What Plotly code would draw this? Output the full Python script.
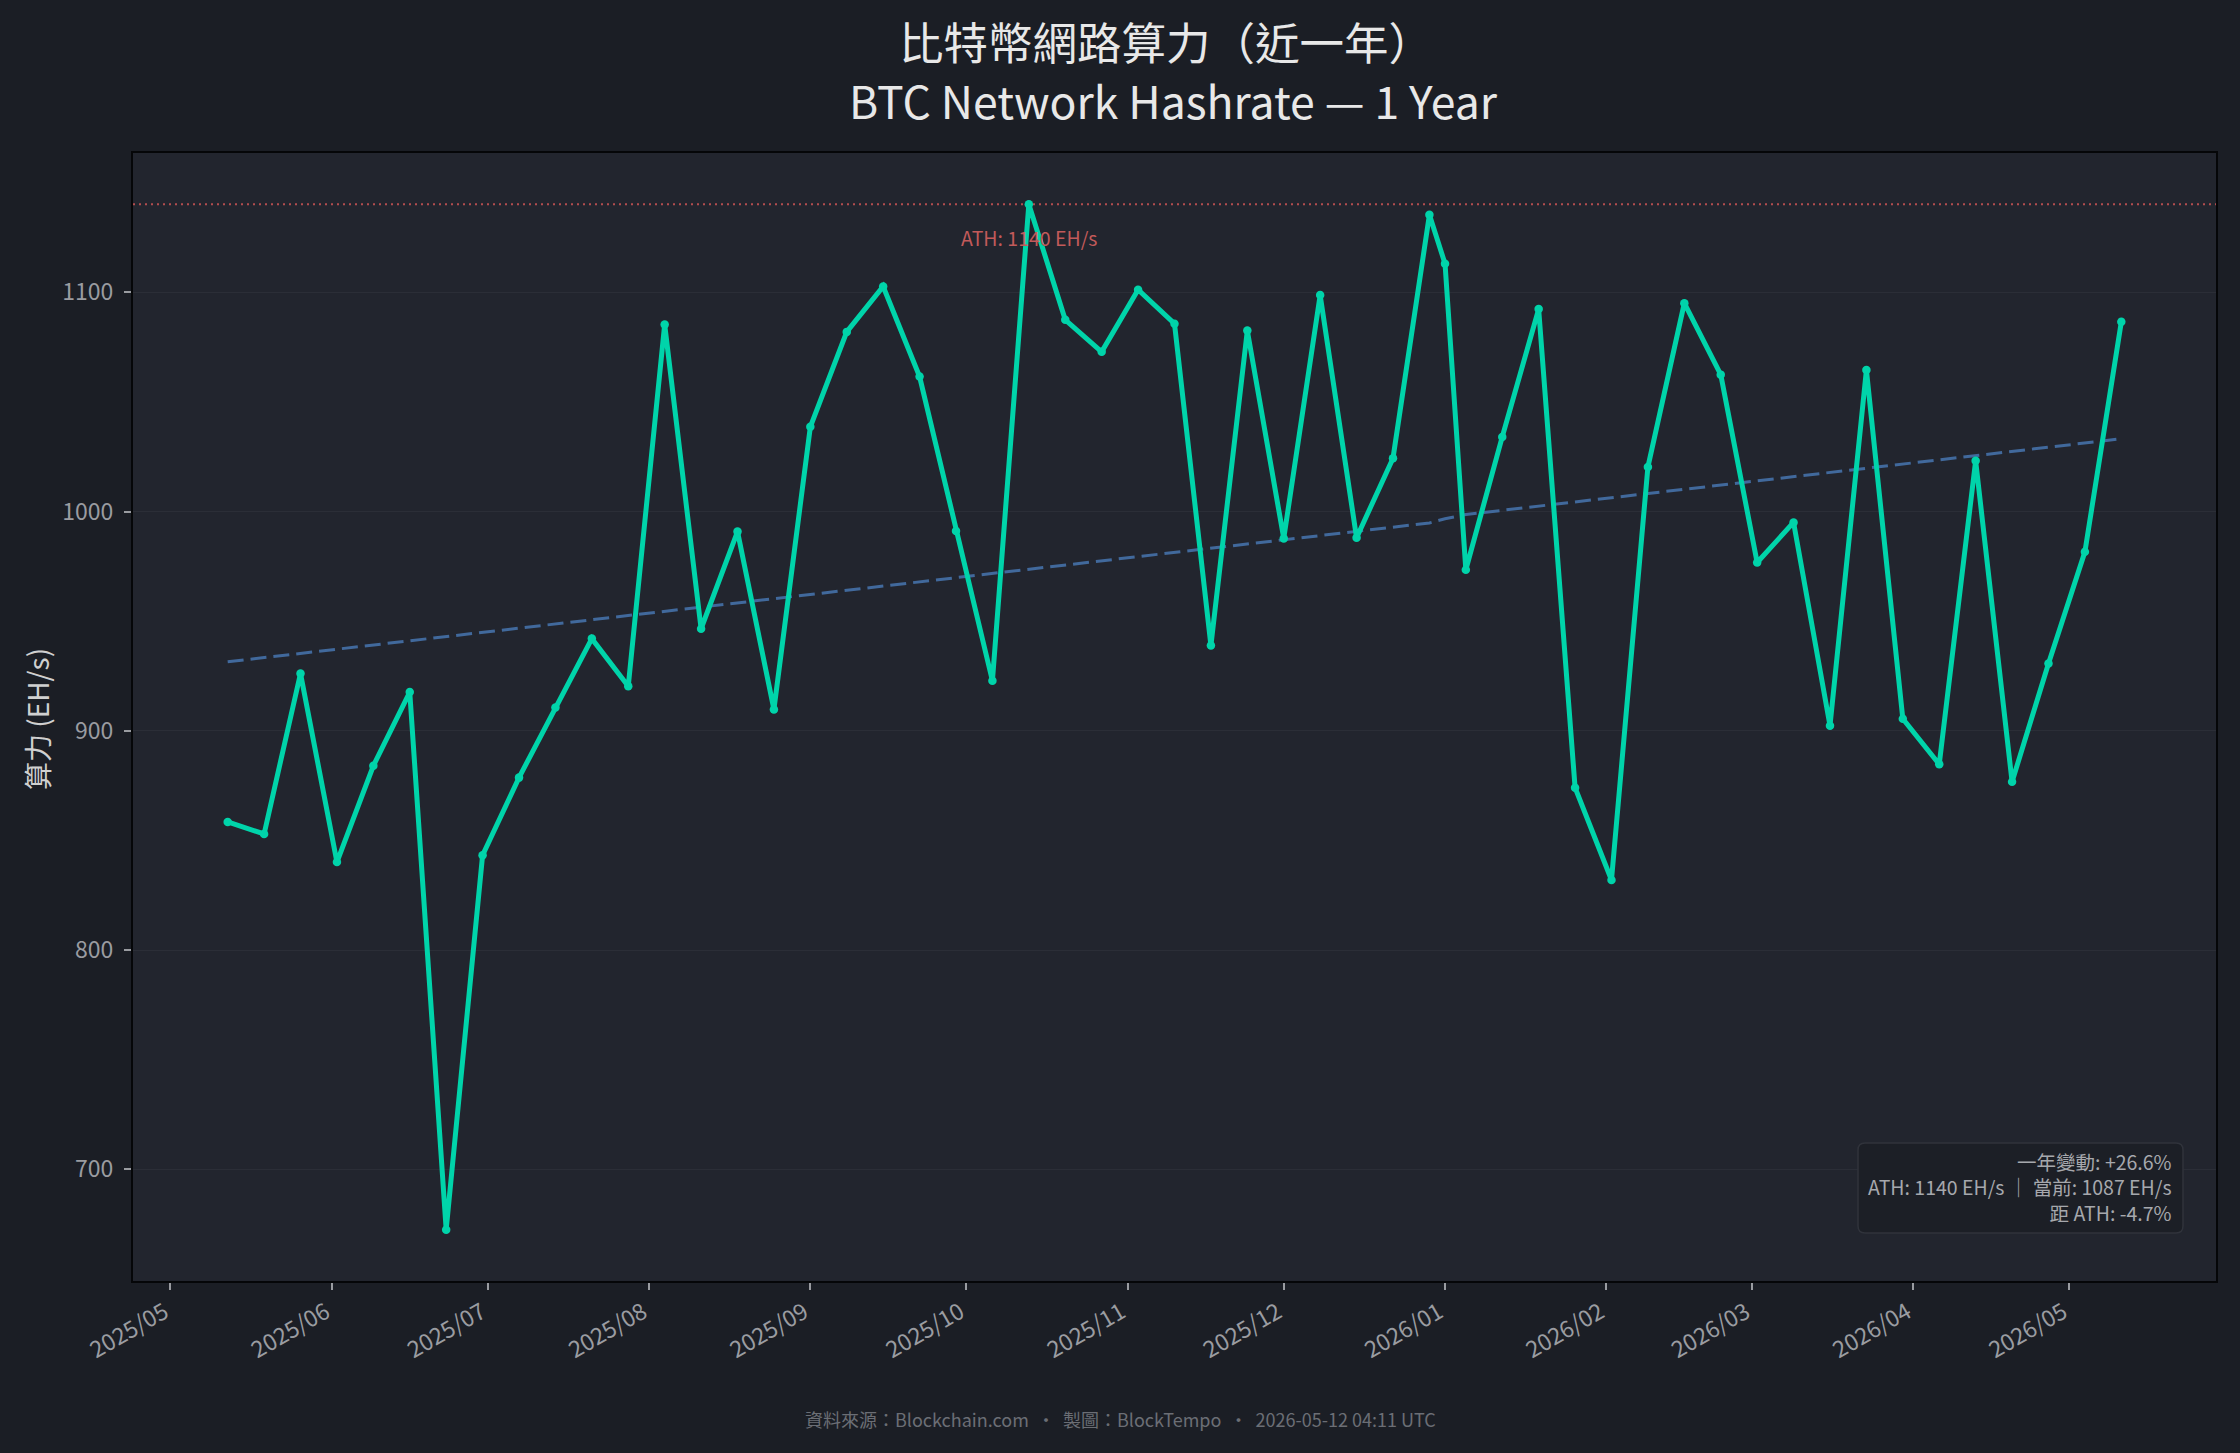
import numpy as np
import pandas as pd
import plotly.graph_objects as go

# ---------------- data ----------------
dates = [
    "2025-05-12", "2025-05-19", "2025-05-26", "2025-06-02", "2025-06-09", "2025-06-16",
    "2025-06-23", "2025-06-30", "2025-07-07", "2025-07-14", "2025-07-21", "2025-07-28",
    "2025-08-04", "2025-08-11", "2025-08-18", "2025-08-25", "2025-09-01", "2025-09-08",
    "2025-09-15", "2025-09-22", "2025-09-29", "2025-10-06", "2025-10-13", "2025-10-20",
    "2025-10-27", "2025-11-03", "2025-11-10", "2025-11-17", "2025-11-24", "2025-12-01",
    "2025-12-08", "2025-12-15", "2025-12-22", "2025-12-29", "2026-01-01", "2026-01-05",
    "2026-01-12", "2026-01-19", "2026-01-26", "2026-02-02", "2026-02-09", "2026-02-16",
    "2026-02-23", "2026-03-02", "2026-03-09", "2026-03-16", "2026-03-23", "2026-03-30",
    "2026-04-06", "2026-04-13", "2026-04-20", "2026-04-27", "2026-05-04", "2026-05-11",
]
hashrate = [
    858.5, 853.0, 926.2, 840.2, 884.1, 917.7,
    672.5, 843.3, 878.7, 910.7, 942.1, 920.4,
    1085.4, 946.6, 990.9, 909.8, 1038.7, 1082.0,
    1102.7, 1061.6, 991.2, 922.9, 1140.2, 1087.5,
    1072.9, 1101.2, 1085.7, 939.0, 1082.6, 987.8,
    1098.8, 988.1, 1024.4, 1135.4, 1113.1, 973.5,
    1034.1, 1092.4, 874.1, 832.0, 1020.4, 1095.1,
    1062.5, 976.8, 995.1, 902.4, 1064.6, 905.5,
    884.8, 1023.2, 876.8, 930.8, 981.7, 1086.6,
]
tick_dates = [
    "2025-05-01", "2025-06-01", "2025-07-01", "2025-08-01", "2025-09-01", "2025-10-01",
    "2025-11-01", "2025-12-01", "2026-01-01", "2026-02-01", "2026-03-01", "2026-04-01",
    "2026-05-01",
]
tick_labels = [
    "2025/05", "2025/06", "2025/07", "2025/08", "2025/09", "2025/10",
    "2025/11", "2025/12", "2026/01", "2026/02", "2026/03", "2026/04", "2026/05",
]
y_ticks = [700, 800, 900, 1000, 1100]

title_line1 = "比特幣網路算力（近一年）"
title_line2 = "BTC Network Hashrate — 1 Year"
y_title = "算力 (EH/s)"
ath_label = "ATH: 1140 EH/s"
info_text = "一年變動: +26.6%<br>ATH: 1140 EH/s ｜ 當前: 1087 EH/s<br>距 ATH: -4.7%"
footer_text = "資料來源：Blockchain.com  ・  製圖：BlockTempo  ・  2026-05-12 04:11 UTC"

# ---------------- styling ----------------
FONT = "Noto Sans CJK TC, Noto Sans, sans-serif"
FIG_BG = "#1b1e25"
PLOT_BG = "#22252e"
LINE_C = "#00d4aa"
TREND_C = "#41699c"
ATH_C = "rgba(205,85,85,0.85)"

W, H = 2240, 1453
ML, MR, MT, MB = 133, 24, 153, 172
PW, PH = W - ML - MR, H - MT - MB

x_dt = pd.to_datetime(dates)
vals = np.array(hashrate)
idx = np.arange(len(vals))
coef = np.polyfit(idx, vals, 1)
trend = np.polyval(coef, idx)

ath_i = int(np.argmax(vals))
ath_val = vals[ath_i]
ath_date = x_dt[ath_i]

span = x_dt[-1] - x_dt[0]
x_range = [x_dt[0] - span * 0.05, x_dt[-1] + span * 0.05]
ypad = (vals.max() - vals.min()) * 0.05
y_range = [vals.min() - ypad, vals.max() + ypad]


def px(xp):
    return (xp - ML) / PW


def py(yp):
    return (H - MB - yp) / PH


fig = go.Figure()
fig.add_trace(go.Scatter(
    x=x_dt, y=trend, mode="lines",
    line=dict(color=TREND_C, width=3, dash="16px,7px"),
    hoverinfo="skip", showlegend=False,
))
fig.add_trace(go.Scatter(
    x=x_dt, y=vals, mode="lines+markers",
    line=dict(color=LINE_C, width=5),
    marker=dict(color=LINE_C, size=8.5),
    showlegend=False,
))

# ATH reference line
fig.add_shape(type="line", xref="paper", x0=0, x1=1, yref="y", y0=ath_val, y1=ath_val,
              line=dict(color=ATH_C, width=2, dash="2px,4px"), layer="below")
fig.add_annotation(x=ath_date, y=ath_val - 15, xref="x", yref="y", text=ath_label,
                   showarrow=False, font=dict(family=FONT, size=19.5, color="#c25a5a"),
                   xanchor="center", yanchor="middle")

# info box (rounded rectangle)
bx0, bx1 = 1858, 2183
by0, by1 = 1143, 1233
r = 7
rx, ry = r / PW, r / PH
X0, X1, Y0, Y1 = px(bx0), px(bx1), py(by1), py(by0)
path = (f"M {X0+rx},{Y0} L {X1-rx},{Y0} Q {X1},{Y0} {X1},{Y0+ry} "
        f"L {X1},{Y1-ry} Q {X1},{Y1} {X1-rx},{Y1} L {X0+rx},{Y1} "
        f"Q {X0},{Y1} {X0},{Y1-ry} L {X0},{Y0+ry} Q {X0},{Y0} {X0+rx},{Y0} Z")
fig.add_shape(type="path", xref="paper", yref="paper", path=path,
              fillcolor="#1c1f26", line=dict(color="#30333b", width=1.5), layer="above")
fig.add_annotation(x=px(2174), y=py(1187), xref="paper", yref="paper", text=info_text,
                   showarrow=False, align="right", xanchor="right", yanchor="middle",
                   font=dict(family=FONT, size=19.5, color="#a6a8ad"))

# title (two lines)
fig.add_annotation(x=px(1166), y=py(40), xref="paper", yref="paper", text=title_line1,
                   showarrow=False, xanchor="center", yanchor="middle", borderpad=0,
                   font=dict(family=FONT, size=44.5, color="#e8e8e8"))
fig.add_annotation(x=px(1173), y=py(99), xref="paper", yref="paper", text=title_line2,
                   showarrow=False, xanchor="center", yanchor="middle", borderpad=0,
                   font=dict(family=FONT, size=44.5, color="#e8e8e8"))

# y-axis title
fig.add_annotation(x=px(37), y=py(719), xref="paper", yref="paper", text=y_title,
                   showarrow=False, textangle=-90, xanchor="center", yanchor="middle",
                   font=dict(family=FONT, size=28, color="#d0d0d0"))

# footer
fig.add_annotation(x=px(1120), y=py(1419), xref="paper", yref="paper", text=footer_text,
                   showarrow=False, xanchor="center", yanchor="middle",
                   font=dict(family=FONT, size=18, color="#6b6e75"))

fig.update_layout(
    width=W, height=H,
    paper_bgcolor=FIG_BG, plot_bgcolor=PLOT_BG,
    margin=dict(l=ML, r=MR, t=MT, b=MB, autoexpand=False),
    font=dict(family=FONT),
    showlegend=False,
)
fig.update_xaxes(
    type="date", range=x_range, tickvals=pd.to_datetime(tick_dates), ticktext=tick_labels,
    tickangle=-30, tickfont=dict(family=FONT, size=23, color="#9a9ca1"),
    ticks="outside", ticklen=7, tickwidth=1.5, tickcolor="#9a9ca1",
    showgrid=False, zeroline=False,
    showline=True, linecolor="#050608", linewidth=2, mirror=True,
    ticklabelstandoff=0, ticklabelshift=-6,
)
fig.update_yaxes(
    range=y_range, tickvals=y_ticks,
    tickfont=dict(family=FONT, size=23, color="#9a9ca1"),
    ticks="outside", ticklen=7, tickwidth=1.5, tickcolor="#9a9ca1",
    showgrid=True, gridcolor="rgba(255,255,255,0.045)", gridwidth=1, zeroline=False,
    showline=True, linecolor="#050608", linewidth=2, mirror=True,
    ticklabelstandoff=6,
)

fig.write_html(
    "out.html",
    config={"displayModeBar": False},
    post_script="document.body.style.margin='0';document.body.style.padding='0';"
                "document.body.style.background='#1b1e25';",
)
